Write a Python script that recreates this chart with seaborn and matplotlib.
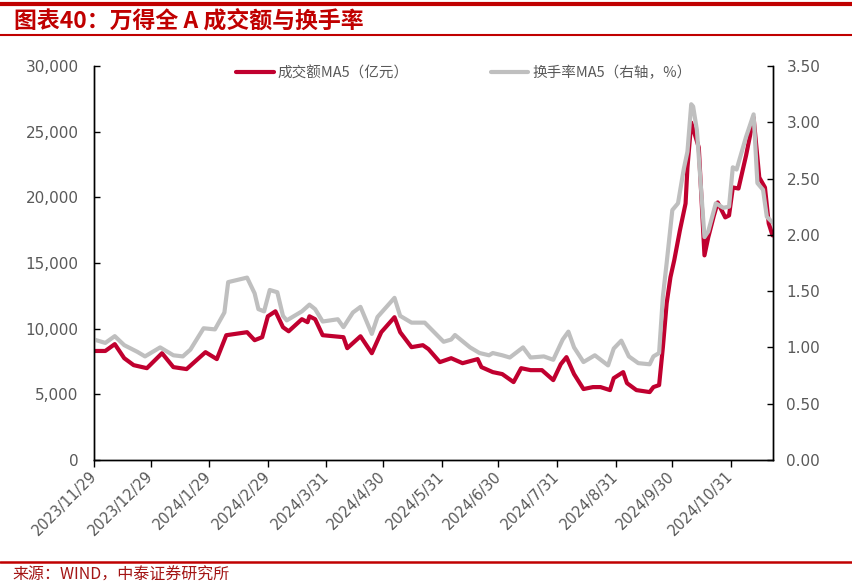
import matplotlib
matplotlib.use("Agg")
import matplotlib.pyplot as plt
import matplotlib.dates as mdates
from matplotlib.ticker import FuncFormatter, FixedLocator
from matplotlib.lines import Line2D
import seaborn as sns
import pandas as pd

# ---------------- data ----------------
turnover_dates = [
    "2023-11-29", "2023-12-05", "2023-12-10", "2023-12-15", "2023-12-20", "2023-12-27",
    "2024-01-04", "2024-01-10", "2024-01-17", "2024-01-27", "2024-02-02", "2024-02-07",
    "2024-02-18", "2024-02-22", "2024-02-26", "2024-02-29", "2024-03-04", "2024-03-08",
    "2024-03-11", "2024-03-18", "2024-03-21", "2024-03-22", "2024-03-25", "2024-03-29",
    "2024-04-09", "2024-04-11", "2024-04-18", "2024-04-24", "2024-04-29", "2024-05-06",
    "2024-05-09", "2024-05-15", "2024-05-21", "2024-05-24", "2024-05-30", "2024-06-05",
    "2024-06-11", "2024-06-19", "2024-06-21", "2024-06-27", "2024-07-02", "2024-07-08",
    "2024-07-12", "2024-07-17", "2024-07-23", "2024-07-29", "2024-08-02", "2024-08-05",
    "2024-08-09", "2024-08-14", "2024-08-19", "2024-08-23", "2024-08-28", "2024-08-30",
    "2024-09-04", "2024-09-06", "2024-09-11", "2024-09-18", "2024-09-20", "2024-09-23",
    "2024-09-25", "2024-09-27", "2024-09-29", "2024-10-01", "2024-10-04", "2024-10-07",
    "2024-10-08", "2024-10-10", "2024-10-14", "2024-10-17", "2024-10-19", "2024-10-22",
    "2024-10-24", "2024-10-28", "2024-10-30", "2024-11-01", "2024-11-04", "2024-11-08",
    "2024-11-12", "2024-11-15", "2024-11-18", "2024-11-20", "2024-11-22",
]
turnover_ma5 = [
    8300, 8300, 8820, 7750, 7220, 6990,
    8130, 7070, 6920, 8210, 7680, 9500,
    9730, 9120, 9350, 10940, 11320, 10110,
    9800, 10720, 10490, 10940, 10720, 9500,
    9350, 8510, 9420, 8130, 9730, 10870,
    9730, 8590, 8740, 8440, 7450, 7750,
    7370, 7680, 7070, 6690, 6540, 5930,
    6990, 6840, 6840, 6080, 7300, 7830,
    6540, 5400, 5550, 5550, 5320, 6230,
    6690, 5850, 5320, 5170, 5550, 5700,
    8590, 11930, 13910, 15200, 17480, 19530,
    22270, 25690, 23790, 15580, 16950, 18620,
    19610, 18470, 18620, 20750, 20670, 23180,
    26070, 21510, 20750, 18010, 17100,
]

rate_dates = [
    "2023-11-29", "2023-12-05", "2023-12-10", "2023-12-15", "2023-12-22", "2023-12-26",
    "2024-01-03", "2024-01-10", "2024-01-15", "2024-01-19", "2024-01-26", "2024-02-01",
    "2024-02-06", "2024-02-08", "2024-02-18", "2024-02-22", "2024-02-24", "2024-02-27",
    "2024-03-01", "2024-03-05", "2024-03-08", "2024-03-10", "2024-03-18", "2024-03-22",
    "2024-03-25", "2024-03-29", "2024-04-06", "2024-04-09", "2024-04-14", "2024-04-18",
    "2024-04-24", "2024-04-27", "2024-05-06", "2024-05-09", "2024-05-15", "2024-05-22",
    "2024-06-01", "2024-06-05", "2024-06-07", "2024-06-15", "2024-06-20", "2024-06-25",
    "2024-06-27", "2024-07-02", "2024-07-06", "2024-07-13", "2024-07-17", "2024-07-24",
    "2024-07-29", "2024-08-03", "2024-08-06", "2024-08-09", "2024-08-14", "2024-08-20",
    "2024-08-27", "2024-08-30", "2024-09-03", "2024-09-07", "2024-09-12", "2024-09-18",
    "2024-09-20", "2024-09-23", "2024-09-25", "2024-09-27", "2024-09-30", "2024-10-03",
    "2024-10-06", "2024-10-08", "2024-10-10", "2024-10-11", "2024-10-13", "2024-10-17",
    "2024-10-19", "2024-10-23", "2024-10-27", "2024-10-30", "2024-11-01", "2024-11-03",
    "2024-11-08", "2024-11-12", "2024-11-14", "2024-11-17", "2024-11-19", "2024-11-22",
]
rate_ma5 = [
    1.07, 1.04, 1.10, 1.02, 0.96, 0.92,
    1.00, 0.93, 0.92, 0.98, 1.17, 1.16,
    1.31, 1.58, 1.62, 1.48, 1.34, 1.32,
    1.51, 1.49, 1.28, 1.24, 1.32, 1.38,
    1.34, 1.23, 1.25, 1.18, 1.31, 1.36,
    1.12, 1.27, 1.44, 1.28, 1.22, 1.22,
    1.05, 1.07, 1.11, 1.00, 0.95, 0.93,
    0.95, 0.93, 0.91, 1.00, 0.91, 0.92,
    0.89, 1.07, 1.14, 1.00, 0.87, 0.93,
    0.84, 0.99, 1.06, 0.92, 0.86, 0.85,
    0.92, 0.95, 1.45, 1.75, 2.22, 2.28,
    2.58, 2.74, 3.16, 3.14, 2.93, 1.98,
    2.03, 2.28, 2.24, 2.25, 2.60, 2.58,
    2.87, 3.07, 2.46, 2.40, 2.16, 2.11,
]

tick_dates = ["2023-11-29", "2023-12-29", "2024-01-29", "2024-02-29", "2024-03-31",
              "2024-04-30", "2024-05-31", "2024-06-30", "2024-07-31", "2024-08-31",
              "2024-09-30", "2024-10-31"]
tick_labels = ["2023/11/29", "2023/12/29", "2024/1/29", "2024/2/29", "2024/3/31",
               "2024/4/30", "2024/5/31", "2024/6/30", "2024/7/31", "2024/8/31",
               "2024/9/30", "2024/10/31"]
left_ticks = [0, 5000, 10000, 15000, 20000, 25000, 30000]
right_ticks = [0.0, 0.5, 1.0, 1.5, 2.0, 2.5, 3.0, 3.5]

title_text = "图表40：万得全 A 成交额与换手率"
source_text = "来源：WIND，中泰证券研究所"
label_turnover = "成交额MA5（亿元）"
label_rate = "换手率MA5（右轴，%）"

# ---------------- style ----------------
sns.set_style("white")
plt.rcParams["font.family"] = ["DejaVu Sans", "Noto Sans CJK SC"]
CJK = ["Noto Sans CJK SC", "DejaVu Sans"]

RED = "#C0002F"
GREY = "#BFBFBF"
TXT = "#595959"
BRAND = "#C00000"

df_t = pd.DataFrame({"date": pd.to_datetime(turnover_dates), "v": turnover_ma5})
df_r = pd.DataFrame({"date": pd.to_datetime(rate_dates), "v": rate_ma5})

fig = plt.figure(figsize=(8.52, 5.87), dpi=100)
ax = fig.add_axes([0.1103, 0.2164, 0.7964, 0.6712])
ax2 = ax.twinx()

sns.lineplot(data=df_t, x="date", y="v", ax=ax, color=RED, linewidth=3.0,
             estimator=None, legend=False)
sns.lineplot(data=df_r, x="date", y="v", ax=ax2, color=GREY, linewidth=3.0,
             estimator=None, legend=False)

xmin = pd.Timestamp(turnover_dates[0])
xmax = pd.Timestamp(turnover_dates[-1])
ax.set_xlim(xmin, xmax)
ax.set_ylim(0, 30000)
ax2.set_ylim(0, 3.5)

ax.xaxis.set_major_locator(FixedLocator(mdates.date2num(pd.to_datetime(tick_dates))))
ax.set_xticklabels(tick_labels)
ax.yaxis.set_major_locator(FixedLocator(left_ticks))
ax.yaxis.set_major_formatter(FuncFormatter(lambda v, p: f"{int(v):,}"))
ax2.yaxis.set_major_locator(FixedLocator(right_ticks))
ax2.yaxis.set_major_formatter(FuncFormatter(lambda v, p: f"{v:.2f}"))

ax.set_xlabel("")
ax.set_ylabel("")
ax2.set_ylabel("")

for a in (ax, ax2):
    a.spines["top"].set_visible(False)
    for s in ("left", "right", "bottom"):
        a.spines[s].set_color("black")
        a.spines[s].set_linewidth(1.0)

ax.tick_params(axis="y", direction="in", length=4, width=1, color="black",
               labelsize=11, labelcolor=TXT, pad=11, left=True)
ax2.tick_params(axis="y", direction="in", length=4, width=1, color="black",
                labelsize=11, labelcolor=TXT, pad=10, right=True)
ax.tick_params(axis="x", direction="out", length=5, width=1, color="black",
               labelsize=10.5, labelcolor=TXT, pad=5, bottom=True)
for lab in ax.get_xticklabels():
    lab.set_rotation(45)
    lab.set_ha("right")
    lab.set_va("center")
    lab.set_rotation_mode("anchor")

ax.set_zorder(1)
ax2.set_zorder(2)
ax.patch.set_visible(False)

handles = [Line2D([], [], color=RED, linewidth=3.0),
           Line2D([], [], color=GREY, linewidth=3.0)]
ax2.legend(handles, [label_turnover, label_rate], loc="center",
           bbox_to_anchor=(0.545, 0.982), ncol=2, frameon=False,
           prop={"family": CJK, "size": 10.5}, labelcolor=TXT,
           handlelength=2.6, handletextpad=0.25, columnspacing=5.6)

# header / footer decorations
fig.add_artist(Line2D([0, 1], [0.994, 0.994], transform=fig.transFigure,
                      color=BRAND, linewidth=3.0))
fig.add_artist(Line2D([0, 1], [1 - 35 / 587, 1 - 35 / 587], transform=fig.transFigure,
                      color=BRAND, linewidth=1.5))
fig.add_artist(Line2D([0, 1], [1 - 562 / 587, 1 - 562 / 587], transform=fig.transFigure,
                      color=BRAND, linewidth=1.8))
fig.text(14 / 852, 1 - 21 / 587, title_text, family=CJK, fontsize=16.5,
         fontweight="bold", color=BRAND, ha="left", va="center")
fig.text(12 / 852, 1 - 575 / 587, source_text, family=CJK, fontsize=11.5,
         color="#A31515", ha="left", va="center")

fig.savefig("out.png", dpi=100)
